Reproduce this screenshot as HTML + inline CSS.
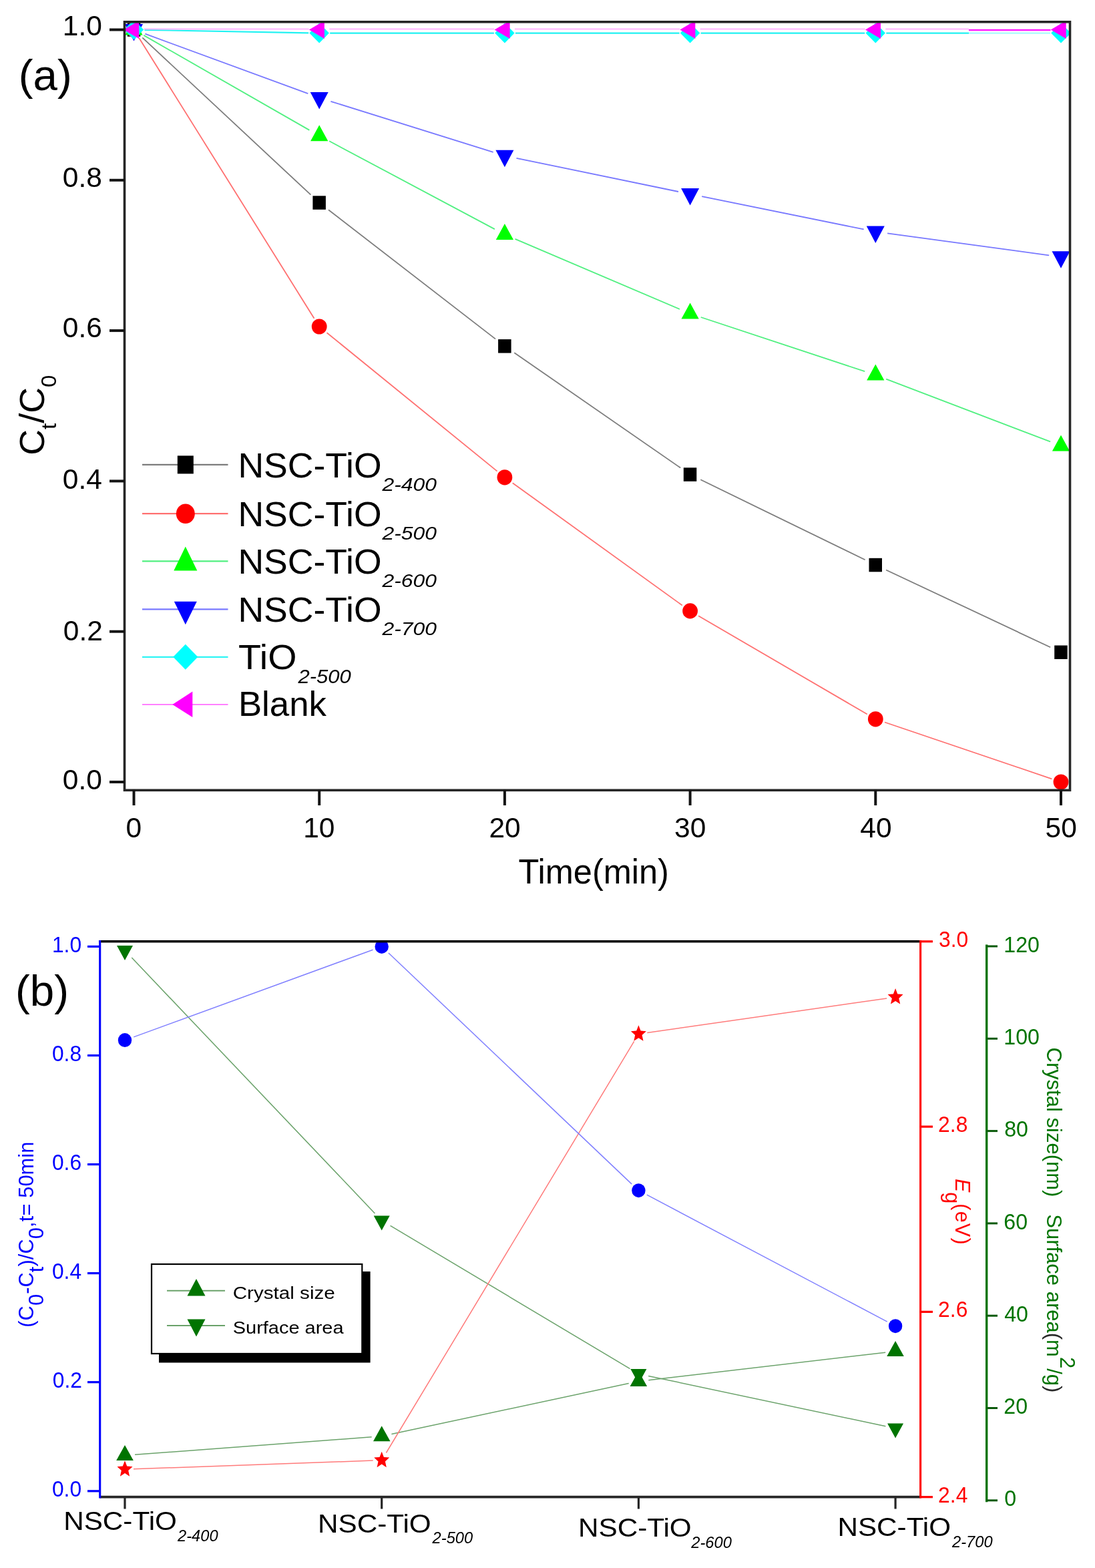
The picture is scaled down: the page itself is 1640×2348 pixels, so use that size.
<!DOCTYPE html>
<html><head><meta charset="utf-8"><title>Figure</title><style>html,body{margin:0;padding:0;background:#fff;overflow:hidden;width:1640px;height:2348px;}svg text{font-family:'Liberation Sans', Arial, sans-serif;}</style></head><body>
<svg width="1640" height="2348" viewBox="0 0 1640 2348" style="display:block;font-family:'Liberation Sans', Arial, sans-serif">
<rect width="1640" height="2348" fill="#fff"/>
<defs><clipPath id="ca"><rect x="186.5" y="32.8" width="1416.0" height="1150.5"/></clipPath><clipPath id="cb"><rect x="149.7" y="1409.8" width="1228.8999999999999" height="831.8"/></clipPath></defs>
<g clip-path="url(#ca)">
<line x1="213.3" y1="56.4" x2="465.4" y2="291.7" stroke="#7c7c7c" stroke-width="1.8"/>
<line x1="492.0" y1="314.3" x2="742.1" y2="507.6" stroke="#7c7c7c" stroke-width="1.8"/>
<line x1="770.3" y1="528.3" x2="1019.2" y2="700.6" stroke="#7c7c7c" stroke-width="1.8"/>
<line x1="1049.3" y1="718.3" x2="1295.6" y2="838.3" stroke="#7c7c7c" stroke-width="1.8"/>
<line x1="1327.1" y1="853.5" x2="1573.2" y2="969.3" stroke="#7c7c7c" stroke-width="1.8"/>
<line x1="208.2" y1="56.8" x2="470.5" y2="476.7" stroke="#ff7070" stroke-width="1.8"/>
<line x1="489.5" y1="498.2" x2="744.6" y2="705.6" stroke="#ff7070" stroke-width="1.8"/>
<line x1="767.7" y1="723.2" x2="1021.8" y2="906.5" stroke="#ff7070" stroke-width="1.8"/>
<line x1="1046.1" y1="922.2" x2="1298.8" y2="1069.5" stroke="#ff7070" stroke-width="1.8"/>
<line x1="1325.0" y1="1081.5" x2="1575.3" y2="1166.3" stroke="#ff7070" stroke-width="1.8"/>
<line x1="215.3" y1="52.9" x2="463.4" y2="194.9" stroke="#50f080" stroke-width="1.8"/>
<line x1="493.2" y1="211.3" x2="740.9" y2="343.1" stroke="#50f080" stroke-width="1.8"/>
<line x1="771.5" y1="357.8" x2="1018.0" y2="463.0" stroke="#50f080" stroke-width="1.8"/>
<line x1="1049.7" y1="475.0" x2="1295.2" y2="556.2" stroke="#50f080" stroke-width="1.8"/>
<line x1="1327.2" y1="567.6" x2="1573.1" y2="661.4" stroke="#50f080" stroke-width="1.8"/>
<line x1="217.4" y1="50.7" x2="461.3" y2="140.2" stroke="#7878ff" stroke-width="1.8"/>
<line x1="495.4" y1="151.8" x2="738.7" y2="227.8" stroke="#7878ff" stroke-width="1.8"/>
<line x1="773.5" y1="236.8" x2="1016.0" y2="287.0" stroke="#7878ff" stroke-width="1.8"/>
<line x1="1051.2" y1="294.2" x2="1293.7" y2="343.4" stroke="#7878ff" stroke-width="1.8"/>
<line x1="1329.1" y1="349.4" x2="1571.2" y2="382.3" stroke="#7878ff" stroke-width="1.8"/>
<line x1="216.5" y1="44.8" x2="462.2" y2="49.3" stroke="#20f2f2" stroke-width="2.2"/>
<line x1="494.2" y1="49.6" x2="739.9" y2="49.6" stroke="#20f2f2" stroke-width="2.2"/>
<line x1="771.9" y1="49.6" x2="1017.6" y2="49.6" stroke="#20f2f2" stroke-width="2.2"/>
<line x1="1049.6" y1="49.6" x2="1295.3" y2="49.6" stroke="#20f2f2" stroke-width="2.2"/>
<line x1="1327.3" y1="49.6" x2="1451" y2="49.6" stroke="#20f2f2" stroke-width="2.2"/>
<line x1="1451" y1="49.6" x2="1573.0" y2="49.6" stroke="#a8fcfc" stroke-width="2.2"/>
<line x1="215.5" y1="43.6" x2="462.7" y2="43.6" stroke="#ffb4ff" stroke-width="2"/>
<line x1="493.2" y1="43.6" x2="740.4" y2="43.6" stroke="#ffb4ff" stroke-width="2"/>
<line x1="770.9" y1="43.6" x2="1018.1" y2="43.6" stroke="#ffb4ff" stroke-width="2"/>
<line x1="1048.6" y1="43.6" x2="1295.8" y2="43.6" stroke="#ffb4ff" stroke-width="2"/>
<line x1="1326.3" y1="43.6" x2="1451" y2="43.6" stroke="#ffb4ff" stroke-width="2"/>
<line x1="1451" y1="45" x2="1573.5" y2="45" stroke="#ff1cff" stroke-width="2.4"/>
<rect x="190.8" y="34.2" width="19.5" height="20.5" fill="#000000"/>
<rect x="468.4" y="293.3" width="19.5" height="20.5" fill="#000000"/>
<rect x="746.1" y="508.1" width="19.5" height="20.5" fill="#000000"/>
<rect x="1023.8" y="700.3" width="19.5" height="20.5" fill="#000000"/>
<rect x="1301.5" y="835.8" width="19.5" height="20.5" fill="#000000"/>
<rect x="1579.2" y="966.5" width="19.5" height="20.5" fill="#000000"/>
<ellipse cx="200.5" cy="44.5" rx="11.4" ry="11.6" fill="#ff0000"/>
<ellipse cx="478.2" cy="489.0" rx="11.4" ry="11.6" fill="#ff0000"/>
<ellipse cx="755.9" cy="714.8" rx="11.4" ry="11.6" fill="#ff0000"/>
<ellipse cx="1033.6" cy="914.9" rx="11.4" ry="11.6" fill="#ff0000"/>
<ellipse cx="1311.3" cy="1076.8" rx="11.4" ry="11.6" fill="#ff0000"/>
<ellipse cx="1589.0" cy="1171.0" rx="11.4" ry="11.6" fill="#ff0000"/>
<polygon points="187.4,52.5 213.6,52.5 200.5,28.5" fill="#00ff00"/>
<polygon points="465.1,211.3 491.3,211.3 478.2,187.3" fill="#00ff00"/>
<polygon points="742.8,359.1 769.0,359.1 755.9,335.1" fill="#00ff00"/>
<polygon points="1020.5,477.6 1046.7,477.6 1033.6,453.6" fill="#00ff00"/>
<polygon points="1298.2,569.6 1324.4,569.6 1311.3,545.6" fill="#00ff00"/>
<polygon points="1575.9,675.5 1602.1,675.5 1589.0,651.5" fill="#00ff00"/>
<polygon points="187.0,36.0 214.0,36.0 200.5,61.5" fill="#0000ff"/>
<polygon points="464.7,137.9 491.7,137.9 478.2,163.4" fill="#0000ff"/>
<polygon points="742.4,224.7 769.4,224.7 755.9,250.2" fill="#0000ff"/>
<polygon points="1020.1,282.1 1047.1,282.1 1033.6,307.6" fill="#0000ff"/>
<polygon points="1297.8,338.5 1324.8,338.5 1311.3,364.0" fill="#0000ff"/>
<polygon points="1575.5,376.2 1602.5,376.2 1589.0,401.7" fill="#0000ff"/>
<polygon points="200.5,29.5 215.2,44.5 200.5,59.5 185.8,44.5" fill="#00ffff"/>
<polygon points="478.2,34.6 492.9,49.6 478.2,64.6 463.4,49.6" fill="#00ffff"/>
<polygon points="755.9,34.6 770.6,49.6 755.9,64.6 741.1,49.6" fill="#00ffff"/>
<polygon points="1033.6,34.6 1048.3,49.6 1033.6,64.6 1018.8,49.6" fill="#00ffff"/>
<polygon points="1311.3,34.6 1326.0,49.6 1311.3,64.6 1296.5,49.6" fill="#00ffff"/>
<polygon points="1589.0,34.6 1603.8,49.6 1589.0,64.6 1574.2,49.6" fill="#00ffff"/>
<polygon points="185.2,44.5 208.2,31.0 208.2,58.0" fill="#ff00ff"/>
<polygon points="462.9,44.5 485.9,31.0 485.9,58.0" fill="#ff00ff"/>
<polygon points="740.6,44.5 763.6,31.0 763.6,58.0" fill="#ff00ff"/>
<polygon points="1018.3,44.5 1041.3,31.0 1041.3,58.0" fill="#ff00ff"/>
<polygon points="1296.0,44.5 1319.0,31.0 1319.0,58.0" fill="#ff00ff"/>
<polygon points="1573.7,44.5 1596.7,31.0 1596.7,58.0" fill="#ff00ff"/>
</g>
<rect x="186.5" y="32.8" width="1416.0" height="1150.5" fill="none" stroke="#262626" stroke-width="3.6"/>
<line x1="164" y1="1171.0" x2="186.5" y2="1171.0" stroke="#141414" stroke-width="4"/>
<text x="93.8" y="1182.2" font-size="42.5" fill="#000">0.0</text>
<line x1="164" y1="945.7" x2="186.5" y2="945.7" stroke="#141414" stroke-width="4"/>
<text x="94.8" y="958.8" font-size="42.5" fill="#000">0.2</text>
<line x1="164" y1="720.4" x2="186.5" y2="720.4" stroke="#141414" stroke-width="4"/>
<text x="93.8" y="731.8" font-size="42.5" fill="#000">0.4</text>
<line x1="164" y1="495.1" x2="186.5" y2="495.1" stroke="#141414" stroke-width="4"/>
<text x="93.8" y="504.8" font-size="42.5" fill="#000">0.6</text>
<line x1="164" y1="269.8" x2="186.5" y2="269.8" stroke="#141414" stroke-width="4"/>
<text x="93.8" y="279.6" font-size="42.5" fill="#000">0.8</text>
<line x1="164" y1="44.5" x2="186.5" y2="44.5" stroke="#141414" stroke-width="4"/>
<text x="93.8" y="52.8" font-size="42.5" fill="#000">1.0</text>
<line x1="200.5" y1="1183.3" x2="200.5" y2="1206" stroke="#141414" stroke-width="4"/>
<text x="188.5" y="1254.2" font-size="42.5" fill="#000">0</text>
<line x1="478.2" y1="1183.3" x2="478.2" y2="1206" stroke="#141414" stroke-width="4"/>
<text x="454.2" y="1254.2" font-size="42.5" fill="#000">10</text>
<line x1="755.9" y1="1183.3" x2="755.9" y2="1206" stroke="#141414" stroke-width="4"/>
<text x="732.4" y="1254.2" font-size="42.5" fill="#000">20</text>
<line x1="1033.6" y1="1183.3" x2="1033.6" y2="1206" stroke="#141414" stroke-width="4"/>
<text x="1010.1" y="1254.2" font-size="42.5" fill="#000">30</text>
<line x1="1311.3" y1="1183.3" x2="1311.3" y2="1206" stroke="#141414" stroke-width="4"/>
<text x="1288.3" y="1254.2" font-size="42.5" fill="#000">40</text>
<line x1="1589.0" y1="1183.3" x2="1589.0" y2="1206" stroke="#141414" stroke-width="4"/>
<text x="1565.5" y="1254.2" font-size="42.5" fill="#000">50</text>
<text transform="translate(776.6,1322.8) scale(0.990,1)" font-size="51" fill="#000">Time(min)</text>
<text transform="translate(65.8,681.8) rotate(-90) scale(1.035,1)" font-size="52" fill="#000">C<tspan font-size="32" dy="18.5">t</tspan><tspan dy="-18.5">/C</tspan><tspan font-size="32" dy="18.5">0</tspan></text>
<text x="27.8" y="134.8" font-size="65.5" fill="#000">(a)</text>
<line x1="213" y1="695.9" x2="341.5" y2="695.9" stroke="#7c7c7c" stroke-width="2.2"/>
<rect x="265.8" y="682.4" width="24.0" height="27.0" fill="#000000"/>
<text transform="translate(356.4,714.6) scale(1.030,1)" font-size="52" fill="#000">NSC-TiO</text>
<text transform="translate(572.5,734.8) scale(1.120,1)" font-size="28.5" fill="#000" font-style="italic">2-400</text>
<line x1="213" y1="769.2" x2="341.5" y2="769.2" stroke="#ff7070" stroke-width="2.2"/>
<ellipse cx="277.8" cy="769.2" rx="14.0" ry="14.8" fill="#ff0000"/>
<text transform="translate(356.4,787.9) scale(1.030,1)" font-size="52" fill="#000">NSC-TiO</text>
<text transform="translate(572.5,808.1) scale(1.120,1)" font-size="28.5" fill="#000" font-style="italic">2-500</text>
<line x1="213" y1="840.4" x2="341.5" y2="840.4" stroke="#50f080" stroke-width="2.2"/>
<polygon points="260.3,854.4 295.3,854.4 277.8,818.4" fill="#00ff00"/>
<text transform="translate(356.4,859.1) scale(1.030,1)" font-size="52" fill="#000">NSC-TiO</text>
<text transform="translate(572.5,879.3) scale(1.120,1)" font-size="28.5" fill="#000" font-style="italic">2-600</text>
<line x1="213" y1="912.3" x2="341.5" y2="912.3" stroke="#7878ff" stroke-width="2.2"/>
<polygon points="260.8,900.8 294.8,900.8 277.8,935.3" fill="#0000ff"/>
<text transform="translate(356.4,931.0) scale(1.030,1)" font-size="52" fill="#000">NSC-TiO</text>
<text transform="translate(572.5,951.2) scale(1.120,1)" font-size="28.5" fill="#000" font-style="italic">2-700</text>
<line x1="213" y1="983.8" x2="341.5" y2="983.8" stroke="#30f4f4" stroke-width="2.2"/>
<polygon points="277.8,964.8 296.3,983.8 277.8,1002.8 259.3,983.8" fill="#00ffff"/>
<text transform="translate(356.9,1001.5) scale(1.070,1)" font-size="52" fill="#000">TiO</text>
<text transform="translate(446.5,1022.5) scale(1.050,1)" font-size="29.5" fill="#000" font-style="italic">2-500</text>
<line x1="213" y1="1055.0" x2="341.5" y2="1055.0" stroke="#ff80ff" stroke-width="2.2"/>
<polygon points="258.3,1055.0 288.3,1035.5 288.3,1074.0" fill="#ff00ff"/>
<text transform="translate(356.9,1072.2) scale(1.015,1)" font-size="52" fill="#000">Blank</text>
<g clip-path="url(#cb)">
<line x1="202.0" y1="2178.3" x2="556.7" y2="2151.8" stroke="#6aa26a" stroke-width="1.5"/>
<line x1="197.3" y1="1434.1" x2="561.4" y2="1816.9" stroke="#6aa26a" stroke-width="1.5"/>
<line x1="200.0" y1="2199.8" x2="558.7" y2="2187.1" stroke="#ff7a7a" stroke-width="1.5"/>
<line x1="200.2" y1="1552.9" x2="558.5" y2="1422.2" stroke="#8080ff" stroke-width="1.5"/>
<line x1="586.4" y1="2147.5" x2="941.7" y2="2071.5" stroke="#6aa26a" stroke-width="1.5"/>
<line x1="584.6" y1="1835.4" x2="943.5" y2="2049.6" stroke="#6aa26a" stroke-width="1.5"/>
<line x1="578.4" y1="2175.5" x2="949.7" y2="1559.4" stroke="#ff7a7a" stroke-width="1.5"/>
<line x1="581.9" y1="1427.0" x2="946.2" y2="1773.1" stroke="#8080ff" stroke-width="1.5"/>
<line x1="971.3" y1="2066.7" x2="1326.2" y2="2025.2" stroke="#6aa26a" stroke-width="1.5"/>
<line x1="971.1" y1="2060.4" x2="1326.4" y2="2135.8" stroke="#6aa26a" stroke-width="1.5"/>
<line x1="969.3" y1="1546.5" x2="1328.2" y2="1495.0" stroke="#ff7a7a" stroke-width="1.5"/>
<line x1="968.8" y1="1789.2" x2="1328.7" y2="1979.2" stroke="#8080ff" stroke-width="1.5"/>
<polygon points="174.2,2187.0 199.8,2187.0 187.0,2164.0" fill="#007400"/>
<polygon points="175.0,1415.9 199.0,1415.9 187.0,1437.9" fill="#007400"/>
<polygon points="187.0,2187.3 190.2,2195.5 198.5,2196.2 192.2,2202.1 194.1,2210.8 187.0,2206.1 179.9,2210.8 181.8,2202.1 175.5,2196.2 183.8,2195.5" fill="#ff0000"/>
<ellipse cx="187.0" cy="1557.6" rx="10.2" ry="10.5" fill="#0000ff"/>
<polygon points="559.0,2158.3 584.5,2158.3 571.7,2135.3" fill="#007400"/>
<polygon points="559.7,1820.4 583.7,1820.4 571.7,1842.4" fill="#007400"/>
<polygon points="571.7,2173.7 574.9,2181.9 583.2,2182.6 576.9,2188.5 578.8,2197.2 571.7,2192.5 564.6,2197.2 566.5,2188.5 560.2,2182.6 568.5,2181.9" fill="#ff0000"/>
<ellipse cx="571.7" cy="1417.4" rx="10.2" ry="10.5" fill="#0000ff"/>
<polygon points="943.6,2076.1 969.1,2076.1 956.4,2053.1" fill="#007400"/>
<polygon points="944.4,2050.0 968.4,2050.0 956.4,2072.0" fill="#007400"/>
<polygon points="956.4,1535.3 959.6,1543.6 967.9,1544.3 961.6,1550.1 963.5,1558.8 956.4,1554.2 949.3,1558.8 951.2,1550.1 944.9,1544.3 953.2,1543.6" fill="#ff0000"/>
<ellipse cx="956.4" cy="1782.7" rx="10.2" ry="10.5" fill="#0000ff"/>
<polygon points="1328.3,2031.1 1353.8,2031.1 1341.1,2008.1" fill="#007400"/>
<polygon points="1329.1,2131.6 1353.1,2131.6 1341.1,2153.6" fill="#007400"/>
<polygon points="1341.1,1480.1 1344.3,1488.4 1352.6,1489.1 1346.3,1494.9 1348.2,1503.6 1341.1,1499.0 1334.0,1503.6 1335.9,1494.9 1329.6,1489.1 1337.9,1488.4" fill="#ff0000"/>
<ellipse cx="1341.1" cy="1985.7" rx="10.2" ry="10.5" fill="#0000ff"/>
</g>
<line x1="148.0" y1="1409.8" x2="1378.6" y2="1409.8" stroke="#000" stroke-width="3.6"/>
<line x1="149.7" y1="2241.6" x2="1378.6" y2="2241.6" stroke="#262626" stroke-width="3.6"/>
<line x1="149.7" y1="1408.0" x2="149.7" y2="2243.4" stroke="#0000ff" stroke-width="3.1"/>
<line x1="1378.6" y1="1408.0" x2="1378.6" y2="2243.4" stroke="#ff0000" stroke-width="3.1"/>
<line x1="131" y1="2232.8" x2="149.7" y2="2232.8" stroke="#0000ff" stroke-width="3.2"/>
<text transform="translate(77.9,2241.4) scale(0.950,1)" font-size="33.5" fill="#0000ff">0.0</text>
<line x1="131" y1="2069.7" x2="149.7" y2="2069.7" stroke="#0000ff" stroke-width="3.2"/>
<text transform="translate(78.8,2078.3) scale(0.950,1)" font-size="33.5" fill="#0000ff">0.2</text>
<line x1="131" y1="1906.6" x2="149.7" y2="1906.6" stroke="#0000ff" stroke-width="3.2"/>
<text transform="translate(77.9,1915.2) scale(0.950,1)" font-size="33.5" fill="#0000ff">0.4</text>
<line x1="131" y1="1743.6" x2="149.7" y2="1743.6" stroke="#0000ff" stroke-width="3.2"/>
<text transform="translate(77.9,1752.2) scale(0.950,1)" font-size="33.5" fill="#0000ff">0.6</text>
<line x1="131" y1="1580.5" x2="149.7" y2="1580.5" stroke="#0000ff" stroke-width="3.2"/>
<text transform="translate(77.9,1589.1) scale(0.950,1)" font-size="33.5" fill="#0000ff">0.8</text>
<line x1="131" y1="1417.4" x2="149.7" y2="1417.4" stroke="#0000ff" stroke-width="3.2"/>
<text transform="translate(77.9,1426.0) scale(0.950,1)" font-size="33.5" fill="#0000ff">1.0</text>
<line x1="1378.6" y1="2241.7" x2="1397" y2="2241.7" stroke="#ff0000" stroke-width="3.2"/>
<text transform="translate(1405.1,2249.7) scale(0.950,1)" font-size="33.5" fill="#ff0000">2.4</text>
<line x1="1378.6" y1="1964.4" x2="1397" y2="1964.4" stroke="#ff0000" stroke-width="3.2"/>
<text transform="translate(1405.1,1972.4) scale(0.950,1)" font-size="33.5" fill="#ff0000">2.6</text>
<line x1="1378.6" y1="1687.1" x2="1397" y2="1687.1" stroke="#ff0000" stroke-width="3.2"/>
<text transform="translate(1405.1,1695.1) scale(0.950,1)" font-size="33.5" fill="#ff0000">2.8</text>
<line x1="1378.6" y1="1409.8" x2="1397" y2="1409.8" stroke="#ff0000" stroke-width="3.2"/>
<text transform="translate(1406.0,1417.8) scale(0.950,1)" font-size="33.5" fill="#ff0000">3.0</text>
<line x1="1477.7" y1="1414.5" x2="1477.7" y2="2249.2" stroke="#007400" stroke-width="3.4"/>
<line x1="1477.7" y1="2246.8" x2="1494" y2="2246.8" stroke="#0a5a0a" stroke-width="3"/>
<text transform="translate(1504.2,2255.4) scale(0.960,1)" font-size="33.5" fill="#007400">0</text>
<line x1="1477.7" y1="2108.5" x2="1494" y2="2108.5" stroke="#0a5a0a" stroke-width="3"/>
<text transform="translate(1503.3,2117.1) scale(0.960,1)" font-size="33.5" fill="#007400">20</text>
<line x1="1477.7" y1="1970.2" x2="1494" y2="1970.2" stroke="#0a5a0a" stroke-width="3"/>
<text transform="translate(1504.2,1978.8) scale(0.960,1)" font-size="33.5" fill="#007400">40</text>
<line x1="1477.7" y1="1831.9" x2="1494" y2="1831.9" stroke="#0a5a0a" stroke-width="3"/>
<text transform="translate(1503.3,1840.5) scale(0.960,1)" font-size="33.5" fill="#007400">60</text>
<line x1="1477.7" y1="1693.6" x2="1494" y2="1693.6" stroke="#0a5a0a" stroke-width="3"/>
<text transform="translate(1504.2,1702.2) scale(0.960,1)" font-size="33.5" fill="#007400">80</text>
<line x1="1477.7" y1="1555.3" x2="1494" y2="1555.3" stroke="#0a5a0a" stroke-width="3"/>
<text transform="translate(1503.3,1563.9) scale(0.960,1)" font-size="33.5" fill="#007400">100</text>
<line x1="1477.7" y1="1417.0" x2="1494" y2="1417.0" stroke="#0a5a0a" stroke-width="3"/>
<text transform="translate(1503.3,1425.6) scale(0.960,1)" font-size="33.5" fill="#007400">120</text>
<line x1="187.0" y1="2241.6" x2="187.0" y2="2259.5" stroke="#262626" stroke-width="3.2"/>
<text transform="translate(95.2,2290.5) scale(1.100,1)" font-size="38.4" fill="#000">NSC-TiO</text>
<text transform="translate(266.0,2307.5) scale(1.030,1)" font-size="23" fill="#000" font-style="italic">2-400</text>
<line x1="571.7" y1="2241.6" x2="571.7" y2="2259.5" stroke="#262626" stroke-width="3.2"/>
<text transform="translate(476.0,2295.2) scale(1.100,1)" font-size="38.4" fill="#000">NSC-TiO</text>
<text transform="translate(647.6,2310.5) scale(1.030,1)" font-size="23" fill="#000" font-style="italic">2-500</text>
<line x1="956.4" y1="2241.6" x2="956.4" y2="2259.5" stroke="#262626" stroke-width="3.2"/>
<text transform="translate(866.0,2300.7) scale(1.100,1)" font-size="38.4" fill="#000">NSC-TiO</text>
<text transform="translate(1035.3,2317.5) scale(1.030,1)" font-size="23" fill="#000" font-style="italic">2-600</text>
<line x1="1341.1" y1="2241.6" x2="1341.1" y2="2259.5" stroke="#262626" stroke-width="3.2"/>
<text transform="translate(1254.4,2299.9) scale(1.100,1)" font-size="38.4" fill="#000">NSC-TiO</text>
<text transform="translate(1426.0,2316.8) scale(1.030,1)" font-size="23" fill="#000" font-style="italic">2-700</text>
<text x="22.9" y="1505.5" font-size="65.5" fill="#000">(b)</text>
<text transform="translate(50.2,1987.8) rotate(-90)" font-size="30.8" letter-spacing="0.1" fill="#0000ff">(C<tspan dy="14.4">0</tspan><tspan dy="-14.4">-C</tspan><tspan dy="14.4">t</tspan><tspan dy="-14.4">)/C</tspan><tspan dy="14.4">0</tspan><tspan dy="-14.4">,t= 50min</tspan></text>
<text transform="translate(1431,1765) rotate(90)" font-size="30.5" fill="#ff0000"><tspan font-style="italic">E</tspan><tspan dy="15">g</tspan><tspan dy="-15" letter-spacing="1.2">(eV)</tspan></text>
<text transform="translate(1567.5,1568.5) rotate(90)" font-size="31" fill="#007400">Crystal size(nm)&#160;&#160; Surface area<tspan fill="#2a2a2a">(</tspan>m<tspan dy="-20.5">2</tspan><tspan dy="20.5">/g</tspan><tspan fill="#2a2a2a">)</tspan></text>
<rect x="238" y="1904" width="316.6" height="136.5" fill="#000"/>
<rect x="227" y="1893" width="315.3" height="134" fill="#fff" stroke="#000" stroke-width="2.2"/>
<line x1="250" y1="1932.7" x2="337" y2="1932.7" stroke="#6aa26a" stroke-width="2"/>
<line x1="250" y1="1984.9" x2="337" y2="1984.9" stroke="#6aa26a" stroke-width="2"/>
<polygon points="280.5,1940.5 307.5,1940.5 294.0,1915.0" fill="#007400"/>
<polygon points="280.5,1975.5 307.5,1975.5 294.0,2001.5" fill="#007400"/>
<text transform="translate(348.7,1944.8) scale(1.140,1)" font-size="26" fill="#000">Crystal size</text>
<text transform="translate(348.7,1997.2) scale(1.115,1)" font-size="26" fill="#000">Surface area</text>
</svg>
</body></html>
